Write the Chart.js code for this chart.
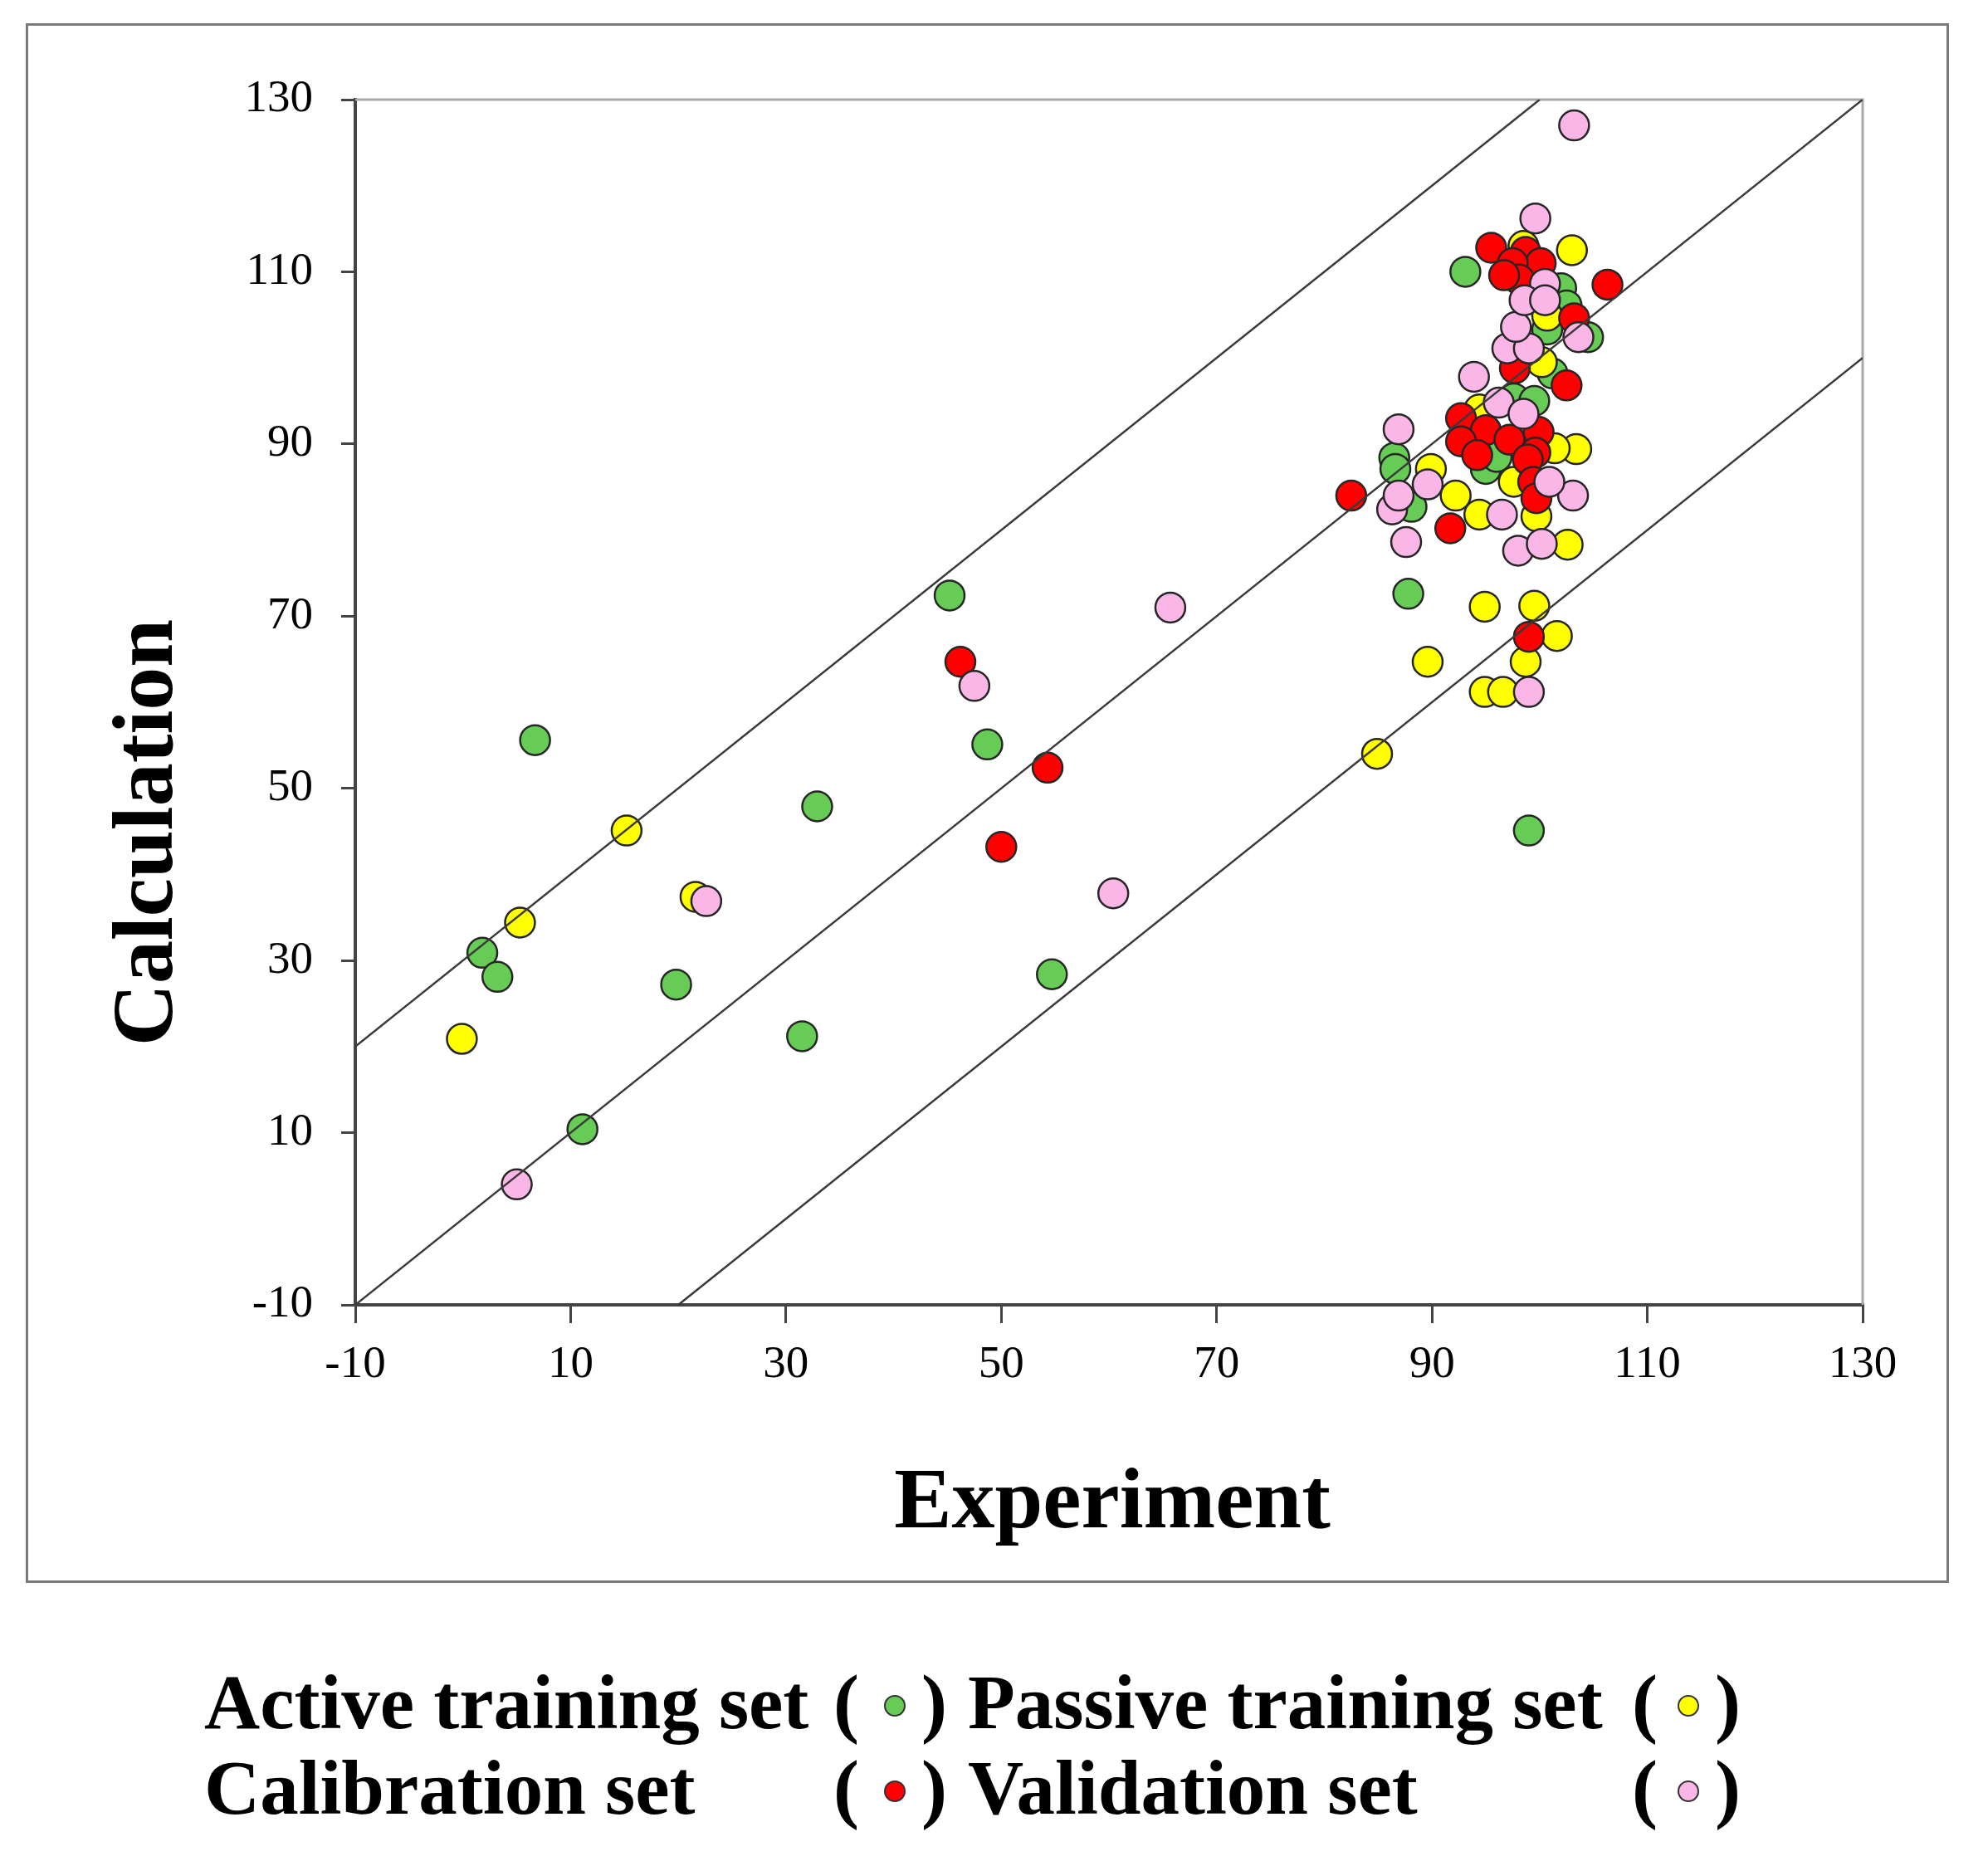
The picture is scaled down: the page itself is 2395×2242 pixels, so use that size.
<!DOCTYPE html>
<html>
<head>
<meta charset="utf-8">
<script src="https://cdn.jsdelivr.net/npm/chart.js@4"></script>
<style>
  html, body { margin:0; padding:0; background:#fff; }
  body { width:2395px; height:2242px; position:relative; overflow:hidden; font-family:'Liberation Serif','Times New Roman',serif; }
  #c { position:absolute; left:0; top:0; }
  #frame { position:absolute; left:31px; top:28px; width:2317px; height:1879px; border:3px solid #7a7a7a; box-sizing:border-box; pointer-events:none; }
  .t { position:absolute; font-weight:bold; color:#000; white-space:nowrap; line-height:1; }
  .xt { font-size:104px; left:1040px; width:600px; text-align:center; top:1753px; height:104px; }
  .yt { font-size:104px; width:700px; height:104px; text-align:center; left:-178px; top:951px; transform:rotate(-90deg); transform-origin:50% 50%; }
  .lg { font-size:93px; height:93px; }
  .dot { position:absolute; width:26px; height:26px; border-radius:50%; border:2px solid #333; box-sizing:border-box; }
</style>
</head>
<body>
<canvas id="c" width="2395" height="2242"></canvas>
<div id="frame"></div>
<div class="t xt">Experiment</div>
<div class="t yt">Calculation</div>
<div id="legend"></div>
<script>
// ---- data (Experiment, Calculation) ----
const activeTraining = [
  [1.8,30.9],[3.2,28.1],[6.7,55.6],[11.1,10.4],[19.8,27.2],[31.5,21.2],[32.9,47.9],
  [45.2,72.4],[48.7,55.1],[54.7,28.4],[87.8,72.6],[99.0,45.1],[93.1,110.0],
  [86.5,88.4],[86.6,87.1],[88.1,82.7],[95.0,87.1],[96.0,88.5],[97.6,95.3],[99.5,95.0],
  [102.0,108.1],[102.5,106.1],[100.7,103.3],[104.5,102.4],[101.2,98.2]
];
const passiveTraining = [
  [-0.1,20.9],[5.3,34.4],[15.2,45.1],[21.6,37.4],[84.9,54.0],[89.6,64.7],[94.9,71.1],
  [94.9,61.2],[96.6,61.2],[98.7,64.7],[99.5,71.2],[101.6,67.7],[102.6,78.3],[103.4,89.4],
  [103.0,112.5],[92.2,84.0],[89.9,87.1],[94.4,81.8],[99.7,81.6],[97.6,85.6],[101.4,89.5],
  [94.4,94.0],[100.7,104.9],[100.2,99.5],[98.5,113.0]
];
const calibrationSet = [
  [46.2,64.7],[54.3,52.4],[50.0,43.2],[82.5,84.0],[91.7,80.2],[99.0,67.6],[106.3,108.5],
  [103.2,104.6],[102.5,96.8],[95.5,112.8],[98.7,112.3],[100.1,111.0],[97.5,111.0],
  [98.1,109.1],[96.7,109.6],[97.7,98.8],[92.7,93.0],[95.0,91.6],[97.2,90.5],[99.9,91.4],
  [92.7,90.3],[94.2,88.7],[99.6,89.0],[98.9,88.2],[99.4,85.6],[99.7,83.7]
];
const validationSet = [
  [5.0,4.0],[22.6,36.9],[47.5,61.9],[60.4,37.8],[65.7,71.0],[103.2,127.0],[99.6,116.2],
  [86.9,91.7],[86.3,82.4],[86.9,84.0],[87.6,78.6],[89.6,85.3],[93.9,97.8],[96.5,81.8],
  [98.0,77.6],[100.2,78.4],[99.0,61.2],[103.1,84.0],[100.9,85.6],[103.6,102.4],[96.2,94.8],
  [98.5,93.5],[97.0,101.1],[99.0,101.1],[97.8,103.6],[100.5,108.6],[98.6,106.7],[100.5,106.7]
];
const refLineOffsets = [30, 0, -30];
const xTicks = [-10, 10, 30, 50, 70, 90, 110, 130];
const yTicks = [-10, 10, 30, 50, 70, 90, 110, 130];
const axisMin = -10, axisMax = 130;

const seriesNames = ['Active training set', 'Passive training set', 'Calibration set', 'Validation set'];
const seriesColors = ['#66CC55', '#FFFF00', '#FF0000', '#F9B6E6'];

// ---- build ----
const FONT = "'Liberation Serif','Times New Roman',serif";
const toPts = arr => arr.map(p => ({x: p[0], y: p[1]}));
const seriesData = [activeTraining, passiveTraining, calibrationSet, validationSet];
const drawOrder = [4, 3, 2, 1];

const datasets = seriesData.map((d, i) => ({
  type: 'scatter',
  label: seriesNames[i],
  data: toPts(d),
  backgroundColor: seriesColors[i],
  borderColor: '#262626',
  borderWidth: 2.5,
  pointRadius: 18,
  pointHoverRadius: 18,
  order: drawOrder[i]
}));
refLineOffsets.forEach(off => {
  const x0 = Math.max(axisMin, axisMin - off), x1 = Math.min(axisMax, axisMax - off);
  datasets.push({
    type: 'line',
    data: [{x: x0, y: x0 + off}, {x: x1, y: x1 + off}],
    borderColor: '#3a3a3a',
    borderWidth: 2.5,
    pointRadius: 0,
    fill: false,
    order: 0
  });
});

const plotBorder = {
  id: 'plotBorder',
  beforeDatasetsDraw(chart) {
    const {ctx, chartArea: {left, top, right, bottom}} = chart;
    ctx.save();
    ctx.strokeStyle = '#a8a8a8';
    ctx.lineWidth = 3;
    ctx.beginPath();
    ctx.moveTo(left, top); ctx.lineTo(right, top); ctx.lineTo(right, bottom);
    ctx.stroke();
    ctx.restore();
  }
};

new Chart(document.getElementById('c'), {
  type: 'scatter',
  data: { datasets },
  plugins: [plotBorder],
  options: {
    responsive: false,
    animation: false,
    devicePixelRatio: 1,
    layout: { padding: { left: 31, top: 120, right: 151, bottom: 335 } },
    plugins: { legend: { display: false }, tooltip: { enabled: false } },
    scales: {
      x: {
        type: 'linear', position: 'bottom', min: axisMin, max: axisMax,
        afterBuildTicks: s => { s.ticks = xTicks.map(v => ({value: v})); },
        afterFit: s => { s.height = 335; },
        grid: { display: true, drawOnChartArea: false, drawTicks: true, tickLength: 22, color: '#444', lineWidth: 3 },
        border: { display: true, color: '#444', width: 4 },
        ticks: { font: { family: FONT, size: 55 }, color: '#000', padding: 18, maxRotation: 0, autoSkip: false }
      },
      y: {
        type: 'linear', position: 'left', min: axisMin, max: axisMax,
        afterBuildTicks: s => { s.ticks = yTicks.map(v => ({value: v})); },
        afterFit: s => { s.width = 397; },
        grid: { display: true, drawOnChartArea: false, drawTicks: true, tickLength: 17, color: '#444', lineWidth: 3 },
        border: { display: true, color: '#444', width: 4 },
        ticks: { font: { family: FONT, size: 55 }, color: '#000', padding: 34, autoSkip: false }
      }
    }
  }
});

// ---- legend (HTML text) ----
const legendRows = [
  { base: 2082, items: [0, 1] },
  { base: 2185, items: [2, 3] }
];
const colText = [246, 1166], colOpen = [1004, 1966], colDot = [1078, 2034], colClose = [1110, 2066];
const lg = document.getElementById('legend');
legendRows.forEach(row => {
  row.items.forEach((si, col) => {
    const top = row.base - 78;
    const mk = (txt, left) => {
      const d = document.createElement('div');
      d.className = 't lg'; d.textContent = txt;
      d.style.left = left + 'px'; d.style.top = top + 'px';
      lg.appendChild(d);
    };
    mk(seriesNames[si], colText[col]);
    mk('(', colOpen[col]);
    mk(')', colClose[col]);
    const dot = document.createElement('div');
    dot.className = 'dot';
    dot.style.background = seriesColors[si];
    dot.style.left = (colDot[col] - 13) + 'px';
    dot.style.top = (row.base - 27 - 13) + 'px';
    lg.appendChild(dot);
  });
});
</script>
</body>
</html>
